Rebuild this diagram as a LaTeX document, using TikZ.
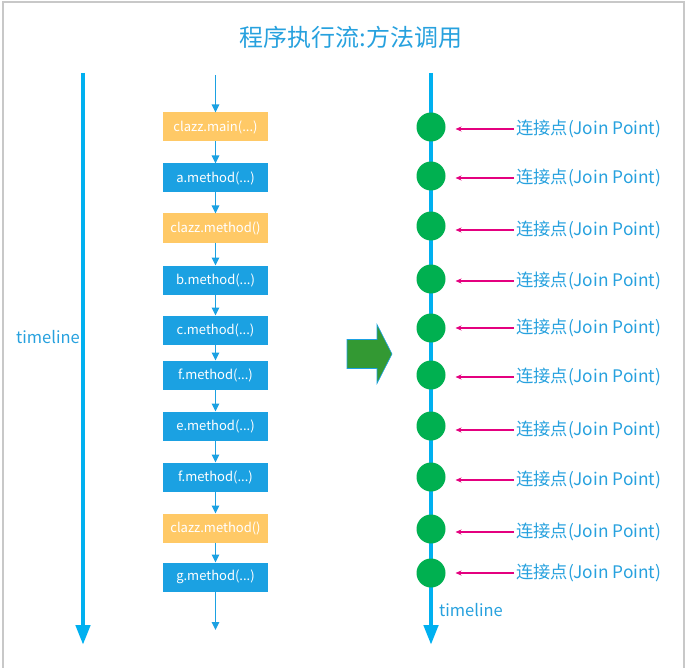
\documentclass[tikz,border=0pt]{standalone}
\usepackage{fontspec}
\setmainfont{Noto Sans CJK SC}
\usepackage{tikz}
\usetikzlibrary{positioning, arrows.meta, calc}

\definecolor{linecyan}{RGB}{0,176,240}
\definecolor{textblue}{RGB}{39,161,222}
\definecolor{callblue}{RGB}{27,161,226}
\definecolor{callorange}{RGB}{255,201,102}
\definecolor{jpgreen}{RGB}{0,176,80}
\definecolor{jppink}{RGB}{228,0,127}
\definecolor{shiftgreen}{RGB}{51,153,51}
\definecolor{framegray}{RGB}{200,200,200}

\def\argdots{...}

\tikzset{
    title/.style={text=textblue, font=\fontsize{24}{28}\selectfont},
    tltext/.style={text=textblue, font=\fontsize{16.5}{19}\selectfont, inner sep=1},
    timeline/.style={linecyan, line width=4.5pt, -{Triangle[width=14pt, length=20pt]}},
    call/.style={text=white, font=\fontsize{13}{15}\selectfont, minimum width=105pt, minimum height=29pt, inner sep=0, outer sep=0},
    callarrow/.style={callblue, line width=1.5pt, -{Triangle[width=7.5pt, length=8pt]}},
    jp/.style={circle, fill=jpgreen, minimum size=29pt, inner sep=0, outer sep=0},
    jptext/.style={text=textblue, font=\fontsize{17.3}{20}\selectfont, inner sep=2},
    jparrow/.style={jppink, line width=1.2pt, shorten >=10pt, -{Stealth[width=5pt, length=6pt]}},
    shiftarrow/.style={fill=shiftgreen, draw=callblue, line width=0.6pt, line join=miter}
}

\begin{document}
\begin{tikzpicture}[x=1pt, y=-1pt]
    \useasboundingbox (0,0) rectangle (687,668);

    % frame
    \draw[framegray, line width=1.5pt] (3,668) -- (3,2) -- (684,2) -- (684,668);

    % title
    \node[title] (title) at (351,37) {程序执行流:方法调用};

    % left timeline
    \coordinate (lt top) at (83,73);
    \coordinate (lt end) at (83,645);
    \draw[timeline] (lt top) -- (lt end);
    \node[tltext, anchor=east] (lt label) at (81,337) {timeline};

    % method calls
    \foreach \i/\y/\co/\txt in {
        1/127/callorange/clazz.main(\argdots),
        2/178/callblue/a.method(\argdots),
        3/228/callorange/clazz.method(),
        4/280/callblue/b.method(\argdots),
        5/330/callblue/c.method(\argdots),
        6/375/callblue/f.method(\argdots),
        7/426/callblue/e.method(\argdots),
        8/477/callblue/f.method(\argdots),
        9/528/callorange/clazz.method(),
        10/577/callblue/g.method(\argdots)}{

        \node[call, fill=\co] (c\i) at (215.5,\y) {\txt};
    }
    \coordinate (calls top) at (215.5,75);
    \coordinate (calls end) at (215.5,630);
    \draw[callarrow] (calls top) -- (c1);
    \foreach \i/\j in {1/2,2/3,3/4,4/5,5/6,6/7,7/8,8/9,9/10}
    {
        \draw[callarrow] (c\i) -- (c\j);
    }
    \draw[callarrow] (c10) -- (calls end);

    % shift arrow
    \coordinate (shift tip) at (392,354);
    \draw[shiftarrow] (shift tip) -- ++(-15,-29.5) -- ++(0,15) -- ++(-30,0)
        -- ++(0,29) -- ++(30,0) -- ++(0,15) -- cycle;

    % right timeline
    \coordinate (rt top) at (431,73);
    \coordinate (rt end) at (431,645);
    \draw[timeline] (rt top) -- (rt end);
    \node[tltext, anchor=west] (rt label) at (438,610) {timeline};

    % join points
    \foreach \i/\cy/\ly in {
        1/127/129,
        2/176/178,
        3/226/230,
        4/279/281,
        5/328/328,
        6/375/377,
        7/426/430,
        8/477/480,
        9/529/532,
        10/573/573}{

        \node[jp] (jp\i) at (431,\cy) {};
        \node[jptext, anchor=west] (jl\i) at (514,\ly) {连接点(Join Point)};
        \draw[jparrow] (jl\i.west) -- (jl\i.west -| jp\i.east);
    }
\end{tikzpicture}
\end{document}
